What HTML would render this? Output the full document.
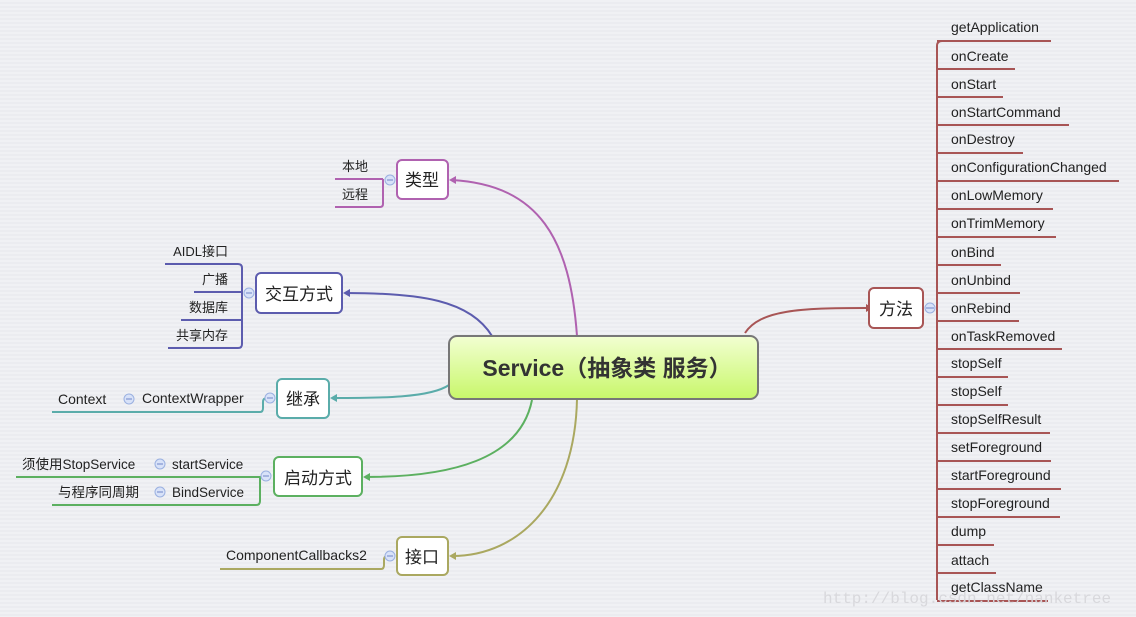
<!DOCTYPE html>
<html><head><meta charset="utf-8"><style>
html,body{margin:0;padding:0;background:#eeeff2;}
svg{display:block;font-family:"Liberation Sans","Noto Sans CJK SC",sans-serif;}
</style></head><body>
<svg width="1136" height="617" viewBox="0 0 1136 617" xmlns="http://www.w3.org/2000/svg">
<defs>
<linearGradient id="g" x1="0" y1="0" x2="0" y2="1"><stop offset="0" stop-color="#f2ffd2"/><stop offset="1" stop-color="#c8f76a"/></linearGradient>
<pattern id="st" width="4" height="4" patternUnits="userSpaceOnUse"><rect width="4" height="2" fill="#f0f1f4"/><rect y="2" width="4" height="2" fill="#ebecf0"/></pattern>
</defs>
<rect width="1136" height="617" fill="url(#st)"/>

<g fill="none" stroke-width="2">
<path d="M745,333 C760,310 800,308 866,308" stroke="#a85555"/>
<path d="M577,336 C570,240 540,185 452,180" stroke="#b062b0"/>
<path d="M492,336 C470,300 420,293 346,293" stroke="#5c5cae"/>
<path d="M449,385 C430,398 380,398 333,398" stroke="#5aacaa"/>
<path d="M532,400 C520,460 450,477 366,477" stroke="#5cb060"/>
<path d="M577,399 C575,500 520,556 452,556" stroke="#aaa860"/>
</g>
<g>
<polygon points="866,304 873,308 866,312" fill="#a85555"/>
<polygon points="456,176 449,180 456,184" fill="#b062b0"/>
<polygon points="350,289 343,293 350,297" fill="#5c5cae"/>
<polygon points="337,394 330,398 337,402" fill="#5aacaa"/>
<polygon points="370,473 363,477 370,481" fill="#5cb060"/>
<polygon points="456,552 449,556 456,560" fill="#aaa860"/>
</g>

<rect x="449" y="336" width="309" height="63" rx="8" fill="url(#g)" stroke="#777" stroke-width="2"/>
<text x="607" y="376" font-size="23" font-weight="bold" fill="#333" text-anchor="middle">Service（抽象类 服务）</text>

<rect x="869" y="288" width="54" height="40" rx="5" fill="#fff" stroke="#a85555" stroke-width="2"/>
<text x="896" y="315" font-size="17" fill="#222" text-anchor="middle">方法</text>
<circle cx="930" cy="308" r="5" fill="#d8e2f8" stroke="#9ab0e0"/>
<line x1="926" y1="308" x2="934" y2="308" stroke="#6f86c8"/>
<g stroke="#a85555" stroke-width="2" fill="none">
<path d="M937,600 V46 Q937,41 942,41"/>
<line x1="937" y1="41" x2="1051" y2="41"/>
<line x1="937" y1="69" x2="1015" y2="69"/>
<line x1="937" y1="97" x2="1003" y2="97"/>
<line x1="937" y1="125" x2="1069" y2="125"/>
<line x1="937" y1="153" x2="1023" y2="153"/>
<line x1="937" y1="181" x2="1119" y2="181"/>
<line x1="937" y1="209" x2="1053" y2="209"/>
<line x1="937" y1="237" x2="1056" y2="237"/>
<line x1="937" y1="265" x2="1001" y2="265"/>
<line x1="937" y1="293" x2="1020" y2="293"/>
<line x1="937" y1="321" x2="1019" y2="321"/>
<line x1="937" y1="349" x2="1062" y2="349"/>
<line x1="937" y1="377" x2="1008" y2="377"/>
<line x1="937" y1="405" x2="1008" y2="405"/>
<line x1="937" y1="433" x2="1050" y2="433"/>
<line x1="937" y1="461" x2="1051" y2="461"/>
<line x1="937" y1="489" x2="1061" y2="489"/>
<line x1="937" y1="517" x2="1060" y2="517"/>
<line x1="937" y1="545" x2="994" y2="545"/>
<line x1="937" y1="573" x2="996" y2="573"/>
<line x1="937" y1="601" x2="1048" y2="601"/>
</g>
<g font-size="14" fill="#222">
<text x="951" y="32">getApplication</text>
<text x="951" y="61">onCreate</text>
<text x="951" y="89">onStart</text>
<text x="951" y="117">onStartCommand</text>
<text x="951" y="144">onDestroy</text>
<text x="951" y="172">onConfigurationChanged</text>
<text x="951" y="200">onLowMemory</text>
<text x="951" y="228">onTrimMemory</text>
<text x="951" y="257">onBind</text>
<text x="951" y="285">onUnbind</text>
<text x="951" y="313">onRebind</text>
<text x="951" y="341">onTaskRemoved</text>
<text x="951" y="368">stopSelf</text>
<text x="951" y="396">stopSelf</text>
<text x="951" y="424">stopSelfResult</text>
<text x="951" y="452">setForeground</text>
<text x="951" y="480">startForeground</text>
<text x="951" y="508">stopForeground</text>
<text x="951" y="536">dump</text>
<text x="951" y="565">attach</text>
<text x="951" y="592">getClassName</text>
</g>

<rect x="397" y="160" width="51" height="39" rx="5" fill="#fff" stroke="#b062b0" stroke-width="2"/>
<text x="422" y="186" font-size="17" fill="#222" text-anchor="middle">类型</text>
<g stroke="#b062b0" stroke-width="2" fill="none">
<line x1="335" y1="179" x2="383" y2="179"/>
<path d="M335,207 H380 Q383,207 383,204 V179"/>
</g>
<circle cx="390" cy="180" r="5" fill="#d8e2f8" stroke="#9ab0e0"/><line x1="387" y1="180" x2="393" y2="180" stroke="#6f86c8"/>
<text x="342" y="171" font-size="13" fill="#222">本地</text>
<text x="342" y="199" font-size="13" fill="#222">远程</text>

<rect x="256" y="273" width="86" height="40" rx="5" fill="#fff" stroke="#5c5cae" stroke-width="2"/>
<text x="299" y="300" font-size="17" fill="#222" text-anchor="middle">交互方式</text>
<g stroke="#5c5cae" stroke-width="2" fill="none">
<line x1="165" y1="264" x2="238" y2="264"/>
<line x1="194" y1="292" x2="242" y2="292"/>
<line x1="181" y1="320" x2="242" y2="320"/>
<path d="M238,264 Q242,264 242,268 V344 Q242,348 238,348 H168"/>
</g>
<circle cx="249" cy="293" r="5" fill="#d8e2f8" stroke="#9ab0e0"/><line x1="246" y1="293" x2="252" y2="293" stroke="#6f86c8"/>
<g font-size="13" fill="#222" text-anchor="end">
<text x="228" y="256">AIDL接口</text>
<text x="228" y="284">广播</text>
<text x="228" y="312">数据库</text>
<text x="228" y="340">共享内存</text>
</g>

<rect x="277" y="379" width="52" height="39" rx="5" fill="#fff" stroke="#5aacaa" stroke-width="2"/>
<text x="303" y="405" font-size="17" fill="#222" text-anchor="middle">继承</text>
<path d="M52,412 H260 Q263,412 263,408 V402 Q263,398 267,398" stroke="#5aacaa" stroke-width="2" fill="none"/>
<circle cx="270" cy="398" r="5" fill="#d8e2f8" stroke="#9ab0e0"/><line x1="267" y1="398" x2="273" y2="398" stroke="#6f86c8"/>
<circle cx="129" cy="399" r="5" fill="#d8e2f8" stroke="#9ab0e0"/><line x1="126" y1="399" x2="132" y2="399" stroke="#6f86c8"/>
<text x="58" y="404" font-size="14" fill="#222">Context</text>
<text x="142" y="403" font-size="14" fill="#222">ContextWrapper</text>

<rect x="274" y="457" width="88" height="39" rx="5" fill="#fff" stroke="#5cb060" stroke-width="2"/>
<text x="318" y="484" font-size="17" fill="#222" text-anchor="middle">启动方式</text>
<g stroke="#5cb060" stroke-width="2" fill="none">
<line x1="16" y1="477" x2="264" y2="477"/>
<path d="M52,505 H256 Q260,505 260,501 V477"/>
</g>
<circle cx="266" cy="476" r="5" fill="#d8e2f8" stroke="#9ab0e0"/><line x1="263" y1="476" x2="269" y2="476" stroke="#6f86c8"/>
<circle cx="160" cy="464" r="5" fill="#d8e2f8" stroke="#9ab0e0"/><line x1="157" y1="464" x2="163" y2="464" stroke="#6f86c8"/>
<circle cx="160" cy="492" r="5" fill="#d8e2f8" stroke="#9ab0e0"/><line x1="157" y1="492" x2="163" y2="492" stroke="#6f86c8"/>
<g font-size="13.5" fill="#222">
<text x="22" y="469">须使用StopService</text>
<text x="172" y="469">startService</text>
<text x="58" y="497">与程序同周期</text>
<text x="172" y="497">BindService</text>
</g>

<rect x="397" y="537" width="51" height="38" rx="5" fill="#fff" stroke="#aaa860" stroke-width="2"/>
<text x="422" y="563" font-size="17" fill="#222" text-anchor="middle">接口</text>
<path d="M220,569 H381 Q384,569 384,565 V560 Q384,556 387,556" stroke="#aaa860" stroke-width="2" fill="none"/>
<circle cx="390" cy="556" r="5" fill="#d8e2f8" stroke="#9ab0e0"/><line x1="387" y1="556" x2="393" y2="556" stroke="#6f86c8"/>
<text x="226" y="560" font-size="14" fill="#222">ComponentCallbacks2</text>

<text x="823" y="603" font-size="16" fill="#d8d8dc" font-family="Liberation Mono, monospace">http://blog.csdn.net/nanketree</text>
</svg>
</body></html>
